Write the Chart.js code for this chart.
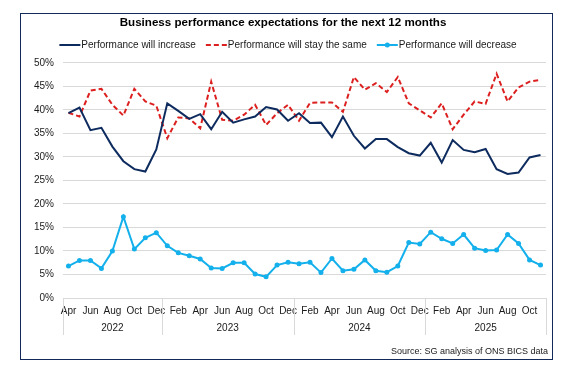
<!DOCTYPE html>
<html lang="en">
  <head>
    <meta charset="UTF-8" />
    <meta name="viewport" content="width=device-width, initial-scale=1.0" />
    <title>Business performance expectations</title>
    <style>
      html, body { margin: 0; padding: 0; background: #fff; }
      #wrap { position: relative; width: 573px; height: 371px; }
      #frame {
        position: absolute; left: 20px; top: 13px; width: 531px; height: 345px;
        border: 1.5px solid #12295a; pointer-events: none;
      }
    </style>
  </head>
  <body>
    <div id="wrap">
      <canvas id="myChart" width="573" height="371"></canvas>
      <div id="frame"></div>
    </div>
  </body>
</html>
<script src="https://cdn.jsdelivr.net/npm/chart.js"></script>

<script>
  // monthly, Apr 2022 - Nov 2025
  const months = [
    "Apr", "May", "Jun", "Jul", "Aug", "Sep", "Oct", "Nov", "Dec",
    "Jan", "Feb", "Mar", "Apr", "May", "Jun", "Jul", "Aug", "Sep", "Oct", "Nov", "Dec",
    "Jan", "Feb", "Mar", "Apr", "May", "Jun", "Jul", "Aug", "Sep", "Oct", "Nov", "Dec",
    "Jan", "Feb", "Mar", "Apr", "May", "Jun", "Jul", "Aug", "Sep", "Oct", "Nov",
  ];
  const years = ["2022", "2023", "2024", "2025"];
  const yearFirst = [0, 9, 21, 33]; // index of first month in each year

  const increase = [
    39.3, 40.5, 35.7, 36.2, 32.2, 29.1, 27.4, 26.9, 31.6,
    41.4, 39.8, 38.1, 39.1, 35.9, 39.6, 37.3, 38.0, 38.6, 40.6, 40.1, 37.7,
    39.3, 37.2, 37.3, 34.2, 38.6, 34.5, 31.8, 33.8, 33.8, 32.1, 30.8, 30.3,
    33.0, 28.8, 33.6, 31.5, 31.0, 31.7, 27.4, 26.4, 26.7, 29.9, 30.4,
  ];
  const staySame = [
    39.4, 38.6, 44.1, 44.5, 41.1, 38.8, 44.5, 41.8, 40.9,
    34.0, 38.4, 38.2, 36.1, 46.0, 37.9, 37.7, 39.0, 41.1, 36.8, 39.3, 41.1,
    37.7, 41.5, 41.6, 41.6, 39.6, 47.0, 44.3, 45.7, 43.8, 47.0, 41.4, 39.9,
    38.4, 41.4, 35.9, 39.0, 41.8, 41.3, 47.7, 41.8, 44.8, 46.0, 46.4,
  ];
  const decrease = [
    6.8, 8.0, 8.0, 6.3, 10.0, 17.3, 10.4, 12.8, 13.9,
    11.1, 9.6, 9.0, 8.3, 6.4, 6.3, 7.5, 7.5, 5.1, 4.5, 7.0, 7.6,
    7.3, 7.6, 5.4, 8.4, 5.8, 6.1, 8.1, 5.8, 5.5, 6.8, 11.8, 11.5,
    14.0, 12.6, 11.6, 13.5, 10.6, 10.1, 10.2, 13.5, 11.6, 8.1, 7.0,
  ];

  const seriesNames = [
    "Performance will increase",
    "Performance will stay the same",
    "Performance will decrease",
  ];
  const sourceNote = "Source: SG analysis of ONS BICS data";

  const FONT = '"Liberation Sans", Arial, sans-serif';
  const NAVY = "#0d2b5e";
  const RED = "#dc1f1f";
  const BLUE = "#13b0ec";

  // year row, legend and source line
  const extras = {
    id: "extras",
    afterDraw(chart) {
      const { ctx, chartArea } = chart;
      const x = chart.scales.x;
      const half = (x.getPixelForValue(1) - x.getPixelForValue(0)) / 2;
      const bottom = chartArea.bottom;
      ctx.save();

      const edges = yearFirst.map((i) => x.getPixelForValue(i) - half);
      edges.push(x.getPixelForValue(months.length - 1) + half);
      ctx.strokeStyle = "#d9d9d9";
      ctx.lineWidth = 1;
      edges.forEach((px) => {
        const p = Math.round(px) + 0.5;
        ctx.beginPath();
        ctx.moveTo(p, bottom);
        ctx.lineTo(p, bottom + 37);
        ctx.stroke();
      });

      ctx.fillStyle = "#1a1a1a";
      ctx.font = "10px " + FONT;
      ctx.textAlign = "center";
      ctx.textBaseline = "middle";
      years.forEach((y, k) => {
        ctx.fillText(y, (edges[k] + edges[k + 1]) / 2, bottom + 30);
      });

      // legend
      const lineLen = 21;
      const gap = 10;
      const widths = seriesNames.map((s) => ctx.measureText(s).width);
      const total = widths.reduce((a, b) => a + b, 0) + 3 * (lineLen + 1) + 2 * gap;
      let lx = 288 - total / 2;
      const ly = 45;
      ctx.textAlign = "left";
      chart.data.datasets.forEach((ds, k) => {
        ctx.strokeStyle = ds.borderColor;
        ctx.lineWidth = 2;
        ctx.setLineDash(ds.borderDash || []);
        ctx.beginPath();
        ctx.moveTo(lx, ly);
        ctx.lineTo(lx + lineLen, ly);
        ctx.stroke();
        ctx.setLineDash([]);
        if (ds.pointRadius > 0) {
          ctx.fillStyle = ds.borderColor;
          ctx.beginPath();
          ctx.arc(lx + lineLen / 2, ly, ds.pointRadius, 0, Math.PI * 2);
          ctx.fill();
        }
        ctx.fillStyle = "#1a1a1a";
        ctx.fillText(seriesNames[k], lx + lineLen + 1, ly);
        lx += lineLen + 1 + widths[k] + gap;
      });

      ctx.font = "9px " + FONT;
      ctx.textAlign = "right";
      ctx.fillText(sourceNote, 548, 352);
      ctx.restore();
    },
  };

  const ctx = document.getElementById("myChart").getContext("2d");
  const myChart = new Chart(ctx, {
    type: "line",
    data: {
      labels: months,
      datasets: [
        {
          label: seriesNames[0],
          data: increase,
          borderColor: NAVY,
          borderWidth: 2,
          pointRadius: 0,
          tension: 0,
        },
        {
          label: seriesNames[1],
          data: staySame,
          borderColor: RED,
          borderWidth: 2,
          borderDash: [5, 3],
          pointRadius: 0,
          tension: 0,
        },
        {
          label: seriesNames[2],
          data: decrease,
          borderColor: BLUE,
          backgroundColor: BLUE,
          borderWidth: 2,
          pointRadius: 2.5,
          pointBorderWidth: 0,
          tension: 0,
        },
      ],
    },
    options: {
      responsive: false,
      animation: false,
      layout: { padding: { left: 20, right: 27, top: 0, bottom: 0 } },
      plugins: {
        legend: { display: false },
        tooltip: { enabled: false },
        title: {
          display: true,
          text: "Business performance expectations for the next 12 months",
          color: "#000",
          font: { family: FONT, size: 11.6, weight: "bold" },
          padding: { top: 16, bottom: 33 },
        },
      },
      scales: {
        x: {
          offset: true,
          grid: { display: false, drawTicks: false },
          border: { display: false },
          afterFit: (scale) => { scale.height = 73; },
          ticks: {
            autoSkip: false,
            maxRotation: 0,
            padding: 7,
            color: "#1a1a1a",
            font: { family: FONT, size: 10 },
            callback: (v, i) => (i % 2 === 0 ? months[i] : ""),
          },
        },
        y: {
          min: 0,
          max: 50,
          grid: { color: "#d9d9d9", drawTicks: false },
          border: { display: false },
          afterFit: (scale) => { scale.width = 43; },
          ticks: {
            stepSize: 5,
            padding: 9,
            color: "#1a1a1a",
            font: { family: FONT, size: 10 },
            callback: (v) => v + "%",
          },
        },
      },
    },
    plugins: [extras],
  });
</script>
